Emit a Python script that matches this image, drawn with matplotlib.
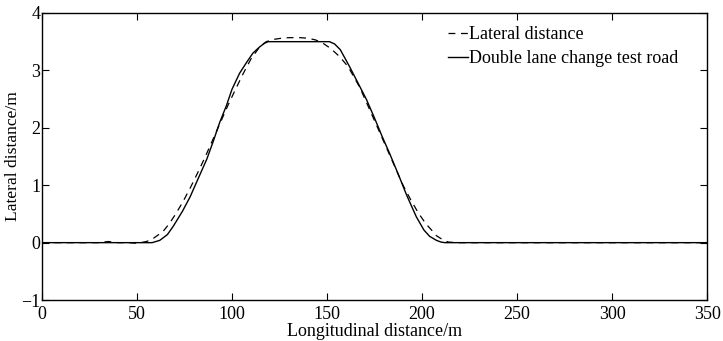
import numpy as np
import matplotlib
matplotlib.use('Agg')
from matplotlib import pyplot as plt

# test road (solid)
road_x = [0, 20, 40, 55, 58, 62, 66, 69, 74, 78, 82, 86.7, 90, 93.5, 97, 100, 104, 107.7, 111, 114.6, 117, 119,
          125, 135, 145, 151.3, 154, 157, 161.8, 166, 170.8, 175, 179, 183, 188, 192, 197, 201, 204, 207.6, 210, 212,
          230, 260, 300, 350]
road_y = [0, 0, 0, 0, 0.0, 0.04, 0.14, 0.28, 0.55, 0.8, 1.1, 1.45, 1.75, 2.09, 2.38, 2.67, 2.95, 3.14, 3.3, 3.41, 3.47, 3.5,
          3.5, 3.5, 3.5, 3.5, 3.46, 3.36, 3.07, 2.8, 2.49, 2.17, 1.85, 1.55, 1.15, 0.82, 0.45, 0.22, 0.11, 0.04, 0.01, 0,
          0, 0, 0, 0]

# vehicle lateral distance (dashed)
lat_x = [0, 10, 20, 30, 35, 40, 45, 50, 52, 55, 58, 61, 63.6, 67, 70, 74, 78, 82, 86, 90, 94, 98, 102, 106, 110, 114.6,
         118, 122, 126, 130, 135.6, 140, 144, 148, 152, 156.6, 161, 167, 170, 174, 178, 182, 186, 190, 194, 198,
         202, 205, 207.6, 210, 212, 214, 218, 230, 260, 300, 350]
lat_y = [0, 0, 0, 0, 0.02, 0, 0, -0.01, 0, 0.02, 0.06, 0.13, 0.19, 0.33, 0.48, 0.7, 0.95, 1.22, 1.5, 1.8, 2.1, 2.4, 2.68, 2.95, 3.2, 3.41,
         3.5, 3.54, 3.56, 3.57, 3.57, 3.56, 3.53, 3.47, 3.38, 3.24, 3.07, 2.72, 2.5, 2.2, 1.9, 1.6, 1.3, 1.0, 0.75, 0.52,
         0.33, 0.22, 0.12, 0.07, 0.03, 0.01, 0, 0, 0, 0, 0]

plt.rcParams['font.family'] = ['Liberation Serif', 'DejaVu Serif']
plt.rcParams['font.size'] = 13

fig = plt.figure(figsize=(7.23, 3.41), dpi=100)
ax = fig.add_axes([0.058, 0.12, 0.920, 0.842])

ax.plot(lat_x, lat_y, color='k', lw=0.9, linestyle=(0, (5.5, 4.5)), label='Lateral distance')
ax.plot(road_x, road_y, color='k', lw=1.0, label='Double lane change test road')

ax.set_xlim(0, 350)
ax.set_ylim(-1, 4)
ax.set_xticks([0, 50, 100, 150, 200, 250, 300, 350])
ax.set_yticks([-1, 0, 1, 2, 3, 4])
ax.tick_params(direction='in', length=5, width=0.8, top=True, right=True)
ax.tick_params(axis='x', pad=4)
ax.tick_params(axis='y', pad=1)
for s in ax.spines.values():
    s.set_linewidth(1.0)

ax.set_xlabel('Longitudinal distance/m', labelpad=0)
ax.set_ylabel('Lateral distance/m', fontsize=12.6, labelpad=0)

ax.legend(loc='upper left', bbox_to_anchor=(0.61, 0.955), frameon=False, handlelength=1.1,
          handletextpad=0.1, labelspacing=0.4, borderpad=0, borderaxespad=0)

fig.savefig('out.png', dpi=100)
